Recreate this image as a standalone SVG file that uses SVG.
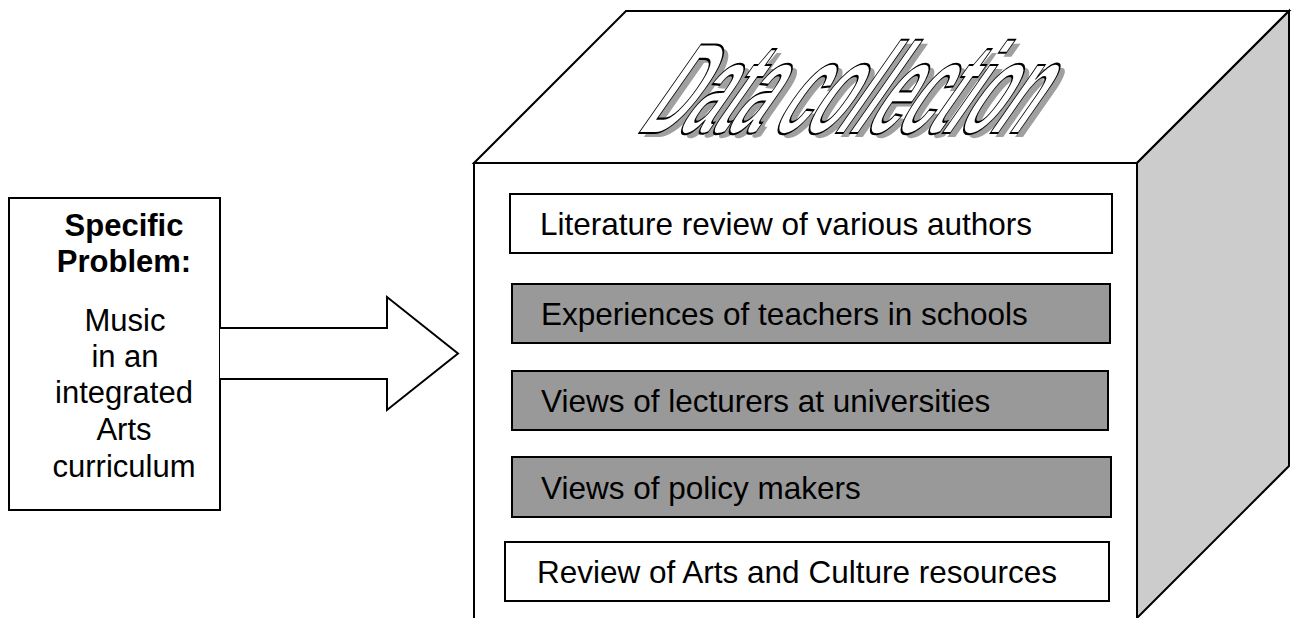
<svg xmlns="http://www.w3.org/2000/svg" width="1295" height="618" viewBox="0 0 1295 618">
  <style>
    .edge { stroke: #000; stroke-width: 2; stroke-linejoin: miter; }
    .lbl { font-family: "Liberation Sans", Arial, sans-serif; font-size: 31px; fill: #000; }
    .big { font-size: 31.5px; }
    .bold { font-weight: bold; }
    .item { stroke: #000; stroke-width: 2; }
    .plain { fill: #fff; }
    .shade { fill: #999; }
    .title { font-family: "Liberation Sans", Arial, sans-serif; font-weight: bold; font-size: 130px; letter-spacing: -4px; }
  </style>
  <rect width="1295" height="618" fill="#fff"/>

  <!-- problem statement box -->
  <g id="problem">
    <rect x="9" y="198" width="211" height="312" fill="#fff" class="edge"/>
    <text class="lbl bold" x="124" y="236" text-anchor="middle">Specific</text>
    <text class="lbl bold" x="124" y="272" text-anchor="middle">Problem:</text>
    <text class="lbl" x="125" y="331" text-anchor="middle">Music</text>
    <text class="lbl" x="125" y="367" text-anchor="middle">in an</text>
    <text class="lbl" x="124" y="403" text-anchor="middle">integrated</text>
    <text class="lbl" x="124" y="440" text-anchor="middle">Arts</text>
    <text class="lbl" x="124" y="477" text-anchor="middle">curriculum</text>
  </g>

  <!-- block arrow leading into the data collection cube -->
  <g id="connectors">
    <path d="M220,328 H387 V297 L458,353.5 L387,410 V379 H220" fill="#fff" class="edge"/>
  </g>

  <!-- data collection cube -->
  <g id="cube">
    <polygon points="474,163 626,11 1289,11 1137,163" fill="#fff" class="edge"/>
    <polygon points="1137,163 1289,11 1289,466 1137,618" fill="#ccc" class="edge"/>
    <path d="M474,620 V163 H1137 V620" fill="#fff" class="edge"/>
  </g>

  <!-- cube title, outlined with drop shadow -->
  <g id="title">
    <text class="title" transform="translate(640,137) skewX(-35) scale(0.445,0.99)" fill="#a0a0a0">Data collection</text>
    <text class="title" transform="translate(635,133) skewX(-35) scale(0.445,0.99)" fill="#fff" stroke="#000" stroke-width="2" vector-effect="non-scaling-stroke">Data collection</text>
  </g>

  <g id="literature">
    <rect x="510" y="194" width="602" height="59" class="item plain"/>
    <text class="lbl big" x="540" y="235">Literature review of various authors</text>
  </g>
  <g id="teachers">
    <rect x="512" y="284" width="598" height="59" class="item shade"/>
    <text class="lbl big" x="541" y="325">Experiences of teachers in schools</text>
  </g>
  <g id="lecturers">
    <rect x="512" y="371" width="596" height="59" class="item shade"/>
    <text class="lbl big" x="541" y="412">Views of lecturers at universities</text>
  </g>
  <g id="policy">
    <rect x="512" y="457" width="599" height="60" class="item shade"/>
    <text class="lbl big" x="541" y="499">Views of policy makers</text>
  </g>
  <g id="resources">
    <rect x="505" y="542" width="604" height="59" class="item plain"/>
    <text class="lbl big" x="537" y="583">Review of Arts and Culture resources</text>
  </g>
</svg>
